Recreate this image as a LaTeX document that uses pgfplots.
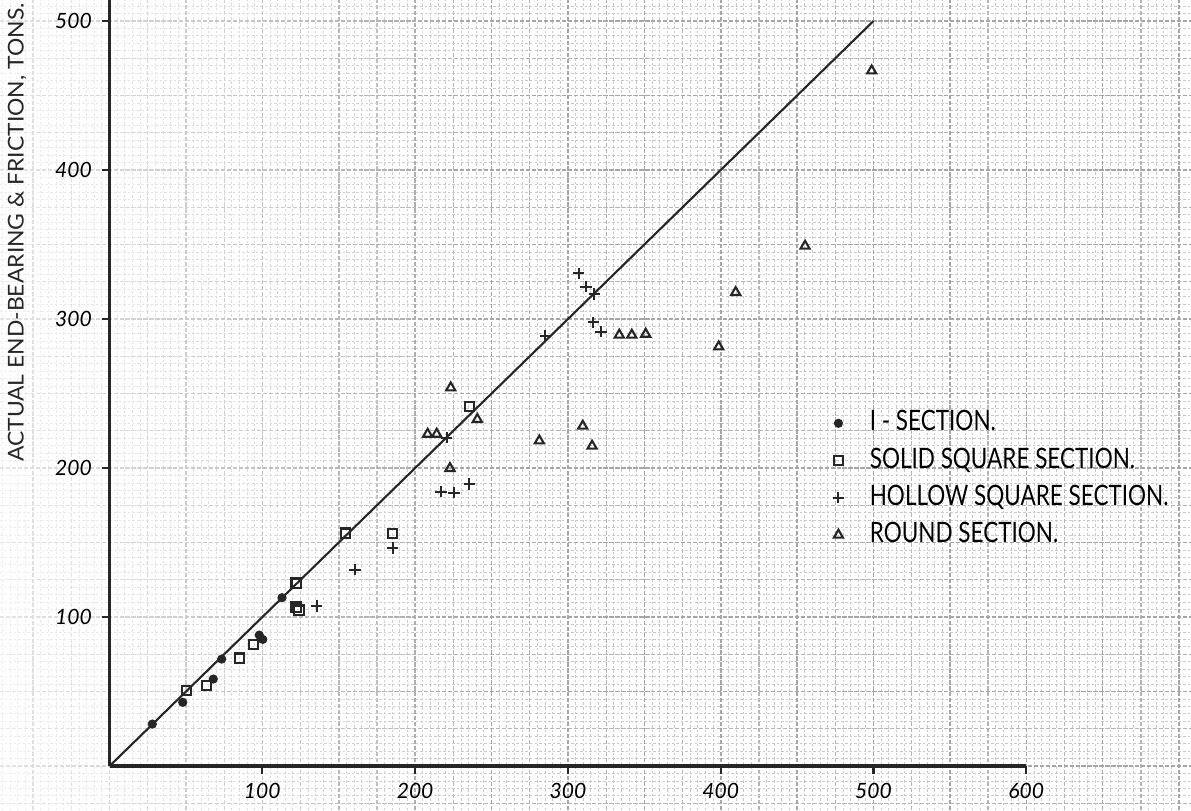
\documentclass[border=0pt]{standalone}
\usepackage{fontspec}
\usepackage{pgfplots}
\usepackage{pgfplotstable}
\pgfplotsset{compat=1.18}
\usetikzlibrary{fadings}

% hand-lettering stand-ins
\newfontfamily\hand{Lato}[FakeStretch=0.8]
\newfontfamily\handw{Lato}[FakeStretch=1.05]
\newfontfamily\handnum{Lato}

% calculated load (x) against actual end-bearing & friction (y), tons
\pgfplotstableread{
x y
28.0 28.2
47.9 42.8
67.9 58.4
73.4 71.8
98.0 87.9
100.3 85.0
112.9 113.0
}\isection

\pgfplotstableread{
x y
50.3 50.8
63.6 54.2
84.9 72.5
94.4 81.4
122.1 122.8
122.1 106.7
124.0 104.7
154.3 156.4
185.3 155.9
235.5 241.1
}\solidsq

\pgfplotstableread{
x y
135.6 107.4
160.7 131.7
185.3 146.3
216.9 184.1
225.5 183.4
235.5 189.3
220.7 220.3
285.2 288.6
307.1 330.7
311.8 321.7
317.3 316.8
316.6 297.8
321.7 291.5
}\hollowsq

\pgfplotstableread{
x y
208.2 222.8
214.1 222.8
223.3 253.9
240.7 232.7
222.8 199.8
281.3 218.3
309.7 228.2
315.8 214.8
333.6 289.3
341.8 289.3
350.9 289.9
398.7 281.4
409.8 317.9
455.2 349.0
498.8 466.6
}\roundsec

\begin{document}
\begin{tikzpicture}
% ---- graph paper: 5-unit lines, 25-unit and 50-unit rulings ----
\begin{axis}[
  name=paper,
  scale only axis,
  width=11.91cm, height=8.10cm,
  xmin=-71.7, xmax=707.8, ymin=-29.5, ymax=514.1,
  axis line style={draw=none},
  xtick distance=25, ytick distance=25,
  minor x tick num=4, minor y tick num=4,
  xticklabels={}, yticklabels={},
  major tick length=0pt, minor tick length=0pt,
  grid=both,
  minor grid style={gray!42, line width=0.25pt, dash pattern=on 0.7pt off 0.6pt},
  major grid style={gray!58, line width=0.35pt, dash pattern=on 1.2pt off 0.5pt},
  extra x ticks={-50,0,...,700}, extra y ticks={0,50,...,500},
  extra x tick labels={}, extra y tick labels={},
  extra tick style={grid=major, major grid style={gray!70, line width=0.45pt}},
]
  \fill[white, opacity=0.7, path fading=east]
    (axis cs:-71.7,-29.5) rectangle (axis cs:240,514.1);
  \coordinate (O) at (axis cs:0,0);
\end{axis}

% ---- the plotted axes ----
\begin{axis}[
  at={(O)}, anchor=south west,
  scale only axis,
  width=9.1674cm, height=7.6604cm,
  xmin=0, xmax=600, ymin=0, ymax=514.1,
  clip=false,
  axis lines=left,
  axis line style={-, line width=1pt, black!85},
  xtick={100,200,...,600}, ytick={100,200,...,500},
  tick align=outside,
  major tick length=0.08cm,
  tick style={black!85, line width=0.6pt},
  /pgf/number format/assume math mode=true,
  xticklabel style={font=\handnum\itshape\fontsize{6}{7}\selectfont, anchor=center, yshift=-0.17cm},
  yticklabel style={font=\handnum\itshape\fontsize{6}{7}\selectfont, anchor=center, xshift=-0.28cm},
  legend cell align=left,
  legend style={at={(axis cs:466,245)}, anchor=north west, draw=none, fill=none,
    font=\hand\fontsize{8}{9}\selectfont, row sep=2.3pt, column sep=0.24cm,
    nodes={inner sep=0.5pt}},
]
  \addplot[black!85, line width=0.6pt, forget plot] coordinates {(0,0) (500,500)};

  \addplot[only marks, mark=*, mark size=1.1pt, black!85] table {\isection};
  \addlegendentry{I - SECTION.}
  \addplot[only marks, mark=square, mark size=1.3pt, line width=0.6pt, black!85] table {\solidsq};
  \addlegendentry{SOLID SQUARE SECTION.}
  \addplot[only marks, mark=+, mark size=1.6pt, line width=0.6pt, black!85] table {\hollowsq};
  \addlegendentry{HOLLOW SQUARE SECTION.}
  \addplot[only marks, mark=triangle, mark size=1.5pt, line width=0.6pt, black!85] table {\roundsec};
  \addlegendentry{ROUND SECTION.}

  \node[rotate=90, font=\handw\fontsize{6.2}{7}\selectfont, black!85]
    at (axis cs:-60.5,358) {ACTUAL END-BEARING \& FRICTION, TONS.};
\end{axis}
\pgfresetboundingbox
\path[use as bounding box] (paper.south west) rectangle (paper.north east);
\end{tikzpicture}
\end{document}
